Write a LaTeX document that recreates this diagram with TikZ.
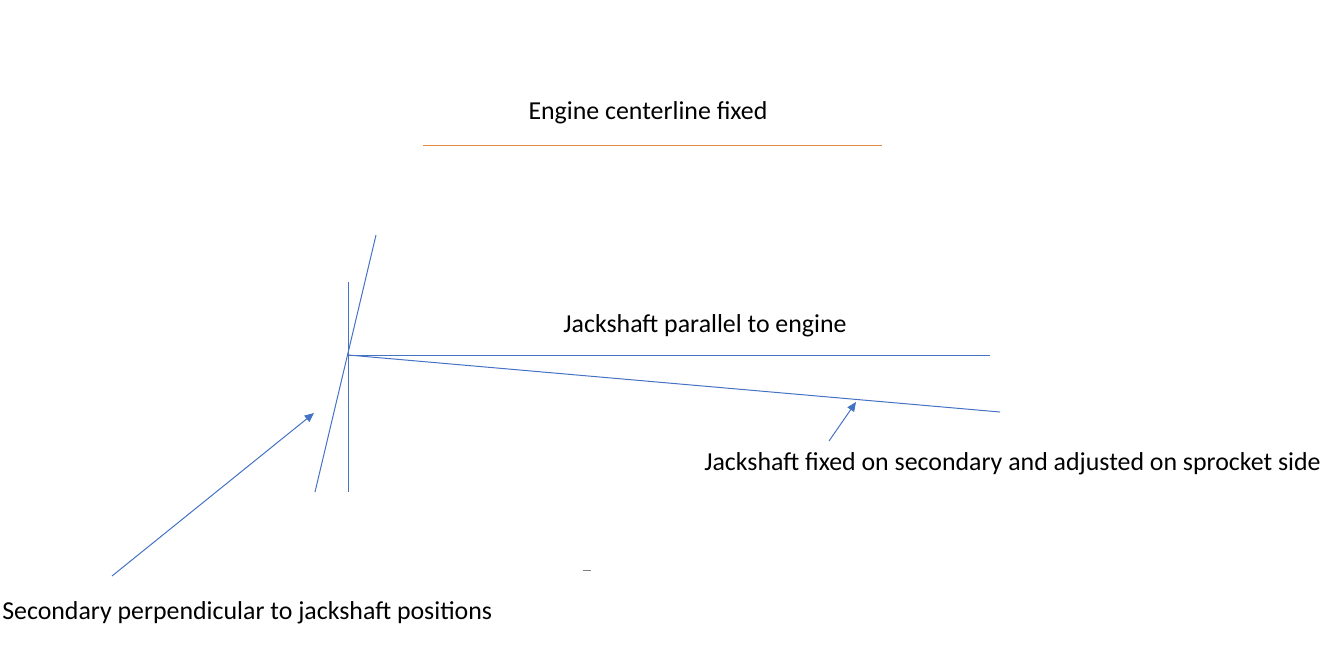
\documentclass[tikz,border=0pt]{standalone}
\usepackage{fontspec}
\setmainfont{Carlito}
\usepackage{xcolor}
\usetikzlibrary{positioning, arrows.meta}
\definecolor{shaftblue}{HTML}{4472C4}
\definecolor{engorange}{HTML}{E08A40}
\tikzset{lbl/.style = {inner sep=0pt, font=\fontsize{19.4}{23}\selectfont},
         shaft/.style = {draw=shaftblue, line width=0.75pt},
         callout/.style = {shaft, -{Triangle[length=7pt, width=6pt]}}}

\begin{document}
\begin{tikzpicture}[x=0.75pt, y=-0.75pt]
            \useasboundingbox (0,0) rectangle (1333,670);
            % text
            \node[lbl] (eng) at (648,113) {Engine centerline fixed};
            \node[lbl] (par) at (705,326) {Jackshaft parallel to engine};
            \node[lbl, anchor=west] (adj) at (704,464) {Jackshaft fixed on secondary and adjusted on sprocket side};
            \node[lbl, anchor=west] (sec) at (2,613) {Secondary perpendicular to jackshaft positions};
            % points
            \coordinate (e1) at (423,146);
            \coordinate (e2) at (882,146);
            \coordinate (pivot) at (348,355);
            \coordinate (v1) at (348,282);
            \coordinate (v2) at (348,492);
            \coordinate (s1) at (376,235);
            \coordinate (s2) at (315,492);
            \coordinate (j1) at (990,355);
            \coordinate (j2) at (1000,412);
            \coordinate (a1) at (829,441);
            \coordinate (a2) at (856,402);
            \coordinate (b1) at (112,576);
            \coordinate (b2) at (314,413);
            \coordinate (d1) at (583,570);
            \coordinate (d2) at (591,570);
            % lines
            \draw[draw=engorange, line width=0.75pt] (e1) -- (e2);
            \draw[shaft] (v1) -- (v2);
            \draw[shaft] (s1) -- (s2);
            \draw[shaft] (pivot) -- (j1);
            \draw[shaft] (pivot) -- (j2);
            \draw[callout] (a1) -- (a2);
            \draw[callout] (b1) -- (b2);
            \draw[gray, line width=0.75pt] (d1) -- (d2);
        \end{tikzpicture}
\end{document}
